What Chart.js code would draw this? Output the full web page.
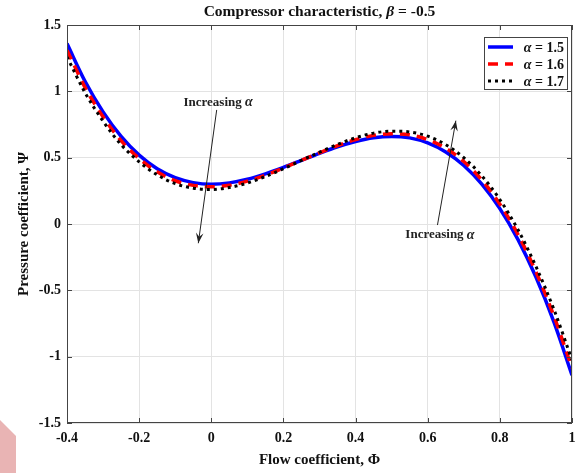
<!DOCTYPE html>
<html>
  <head>
    <meta charset="UTF-8" />
    <title>Compressor characteristic</title>
    <style>
      html,
      body {
        margin: 0;
        padding: 0;
        width: 100%;
        height: 100%;
        background: #fff;
      }
      #wrap {
        position: relative;
        width: 577px;
        height: 473px;
      }
      .corner {
        position: absolute;
        left: 0;
        top: 420px;
        width: 16px;
        height: 53px;
        background: #e9b4b4;
        clip-path: polygon(0 0, 100% 30%, 100% 100%, 0 100%);
      }
    </style>
    <script src="https://cdn.jsdelivr.net/npm/chart.js"></script>
  </head>
  <body>
    <div id="wrap">
      <canvas id="c" width="577" height="473"></canvas>
      <div class="corner"></div>
    </div>
    <script>
      // flow coefficient samples
      const phi = [
        -0.4, -0.35, -0.3, -0.25, -0.2, -0.15, -0.1, -0.05, 0, 0.05, 0.1, 0.15,
        0.2, 0.25, 0.3, 0.35, 0.4, 0.45, 0.5, 0.55, 0.6, 0.65, 0.7, 0.75, 0.8,
        0.85, 0.9, 0.95, 1.0,
      ];
      // pressure coefficient
      const psiA15 = [
        1.36, 1.076, 0.845, 0.66, 0.519, 0.416, 0.349, 0.312, 0.3, 0.31, 0.337,
        0.378, 0.427, 0.48, 0.533, 0.582, 0.622, 0.65, 0.66, 0.649, 0.611,
        0.543, 0.441, 0.3, 0.116, -0.116, -0.4, -0.74, -1.14,
      ];
      const psiA16 = [
        1.31, 1.03, 0.808, 0.628, 0.493, 0.393, 0.326, 0.291, 0.28, 0.292,
        0.323, 0.368, 0.422, 0.48, 0.537, 0.591, 0.636, 0.668, 0.68, 0.672,
        0.636, 0.571, 0.471, 0.332, 0.15, -0.078, -0.36, -0.695, -1.085,
      ];
      const psiA17 = [
        1.26, 0.99, 0.775, 0.598, 0.469, 0.371, 0.304, 0.27, 0.26, 0.275,
        0.309, 0.358, 0.417, 0.48, 0.541, 0.6, 0.65, 0.685, 0.7, 0.694, 0.662,
        0.598, 0.5, 0.363, 0.184, -0.042, -0.32, -0.645, -1.025,
      ];
      const seriesLabels = ["1.5", "1.6", "1.7"];
      const xTicks = [-0.4, -0.2, 0, 0.2, 0.4, 0.6, 0.8, 1];
      const yTicks = [-1.5, -1, -0.5, 0, 0.5, 1, 1.5];

      const SERIF = "'Liberation Serif', 'Times New Roman', serif";
      const toPts = (ys) => phi.map((x, i) => ({ x: x, y: ys[i] }));

      // draw text made of runs with different fonts
      function drawRuns(ctx, runs, x, y, align) {
        let total = 0;
        runs.forEach((r) => {
          ctx.font = r[1];
          total += ctx.measureText(r[0]).width;
        });
        let cx = x;
        if (align === "center") cx = x - total / 2;
        if (align === "right") cx = x - total;
        ctx.textAlign = "left";
        ctx.textBaseline = "middle";
        runs.forEach((r) => {
          ctx.font = r[1];
          ctx.fillText(r[0], cx, y);
          cx += ctx.measureText(r[0]).width;
        });
      }

      function arrow(ctx, x1, y1, x2, y2) {
        ctx.beginPath();
        ctx.moveTo(x1, y1);
        ctx.lineTo(x2, y2);
        ctx.stroke();
        const a = Math.atan2(y2 - y1, x2 - x1);
        const L = 11,
          W = 0.35;
        ctx.beginPath();
        ctx.moveTo(x2, y2);
        ctx.lineTo(x2 - L * Math.cos(a - W), y2 - L * Math.sin(a - W));
        ctx.lineTo(x2 - 0.6 * L * Math.cos(a), y2 - 0.6 * L * Math.sin(a));
        ctx.lineTo(x2 - L * Math.cos(a + W), y2 - L * Math.sin(a + W));
        ctx.closePath();
        ctx.fill();
      }

      const decor = {
        id: "decor",
        afterDatasetsDraw(chart) {
          const ctx = chart.ctx;
          const a = chart.chartArea;
          const xs = chart.scales.x,
            ys = chart.scales.y;
          ctx.save();

          // frame with inward ticks
          ctx.strokeStyle = "#444";
          ctx.lineWidth = 1;
          ctx.strokeRect(a.left + 0.5, a.top + 0.5, a.width - 1, a.height - 1);
          ctx.beginPath();
          xTicks.forEach((v) => {
            const px = Math.round(xs.getPixelForValue(v)) + 0.5;
            ctx.moveTo(px, a.bottom);
            ctx.lineTo(px, a.bottom - 5);
            ctx.moveTo(px, a.top);
            ctx.lineTo(px, a.top + 5);
          });
          yTicks.forEach((v) => {
            const py = Math.round(ys.getPixelForValue(v)) + 0.5;
            ctx.moveTo(a.left, py);
            ctx.lineTo(a.left + 5, py);
            ctx.moveTo(a.right, py);
            ctx.lineTo(a.right - 5, py);
          });
          ctx.stroke();

          // title
          ctx.fillStyle = "#111";
          drawRuns(
            ctx,
            [
              ["Compressor characteristic, ", "bold 15.5px " + SERIF],
              ["\u03b2", "italic bold 15.5px " + SERIF],
              [" = -0.5", "bold 15.5px " + SERIF],
            ],
            (a.left + a.right) / 2,
            12,
            "center"
          );

          // annotations
          ctx.strokeStyle = "#222";
          ctx.fillStyle = "#222";
          ctx.lineWidth = 1;
          const P = (x, y) => [xs.getPixelForValue(x), ys.getPixelForValue(y)];
          let t = P(0.015, 0.86),
            h = P(-0.036, -0.145);
          arrow(ctx, t[0], t[1], h[0], h[1]);
          t = P(0.627, -0.008);
          h = P(0.678, 0.779);
          arrow(ctx, t[0], t[1], h[0], h[1]);
          ctx.fillStyle = "#222";
          const lab = [
            ["Increasing ", "bold 13px " + SERIF],
            ["\u03b1", "italic bold 14px " + SERIF],
          ];
          let c = P(0.019, 0.915);
          drawRuns(ctx, lab, c[0], c[1], "center");
          c = P(0.634, -0.083);
          drawRuns(ctx, lab, c[0], c[1], "center");

          // legend
          const lx = a.right - 88,
            ly = a.top + 12,
            lw = 83,
            lh = 52;
          ctx.fillStyle = "#fff";
          ctx.fillRect(lx, ly, lw, lh);
          ctx.strokeStyle = "#444";
          ctx.lineWidth = 1;
          ctx.strokeRect(lx + 0.5, ly + 0.5, lw, lh);
          chart.data.datasets.forEach((ds, i) => {
            const yy = ly + 10 + i * 17;
            ctx.strokeStyle = ds.borderColor;
            ctx.lineWidth = ds.borderWidth;
            ctx.setLineDash(ds.borderDash || []);
            ctx.beginPath();
            ctx.moveTo(lx + 4, yy);
            ctx.lineTo(lx + 29, yy);
            ctx.stroke();
            ctx.setLineDash([]);
            ctx.fillStyle = "#111";
            drawRuns(
              ctx,
              [
                ["\u03b1", "italic bold 14px " + SERIF],
                [" = " + seriesLabels[i], "bold 14px " + SERIF],
              ],
              lx + lw - 3,
              yy + 1,
              "right"
            );
          });
          ctx.restore();
        },
      };

      const fmt = (v) => String(Number(Number(v).toFixed(1)));

      new Chart(document.getElementById("c"), {
        type: "line",
        data: {
          datasets: [
            {
              label: "\u03b1 = " + seriesLabels[0],
              data: toPts(psiA15),
              borderColor: "#0000ff",
              borderWidth: 3.5,
              order: 3,
            },
            {
              label: "\u03b1 = " + seriesLabels[1],
              data: toPts(psiA16),
              borderColor: "#ff0000",
              borderWidth: 3.5,
              borderDash: [10, 7],
              order: 2,
            },
            {
              label: "\u03b1 = " + seriesLabels[2],
              data: toPts(psiA17),
              borderColor: "#000000",
              borderWidth: 3,
              borderDash: [3, 4],
              order: 1,
            },
          ],
        },
        options: {
          responsive: false,
          animation: false,
          events: [],
          elements: {
            point: { radius: 0 },
            line: { cubicInterpolationMode: "monotone", fill: false },
          },
          layout: {
            autoPadding: false,
            padding: { top: 25, right: 5, left: 0, bottom: 0 },
          },
          plugins: { legend: { display: false }, tooltip: { enabled: false } },
          scales: {
            x: {
              type: "linear",
              min: -0.4,
              max: 1,
              afterBuildTicks: (s) => {
                s.ticks = xTicks.map((v) => ({ value: v }));
              },
              afterFit: (s) => {
                s.height = 50;
                s.paddingLeft = 0;
                s.paddingRight = 0;
              },
              grid: { color: "#e3e3e3", drawTicks: false },
              border: { display: false },
              ticks: {
                color: "#111",
                padding: 7,
                font: { family: SERIF, size: 14, weight: "bold" },
                callback: fmt,
              },
              title: {
                display: true,
                text: "Flow coefficient, \u03a6",
                color: "#111",
                font: { family: SERIF, size: 15, weight: "bold" },
                padding: { top: 0, bottom: 4 },
              },
            },
            y: {
              type: "linear",
              min: -1.5,
              max: 1.5,
              afterBuildTicks: (s) => {
                s.ticks = yTicks.map((v) => ({ value: v }));
              },
              afterFit: (s) => {
                s.width = 67;
                s.paddingTop = 0;
                s.paddingBottom = 0;
              },
              grid: { color: "#e3e3e3", drawTicks: false },
              border: { display: false },
              ticks: {
                color: "#111",
                padding: 6,
                font: { family: SERIF, size: 14, weight: "bold" },
                callback: fmt,
              },
              title: {
                display: true,
                text: "Pressure coefficient, \u03a8",
                color: "#111",
                font: { family: SERIF, size: 15, weight: "bold" },
                padding: { top: 15, bottom: 0 },
              },
            },
          },
        },
        plugins: [decor],
      });
    </script>
  </body>
</html>
